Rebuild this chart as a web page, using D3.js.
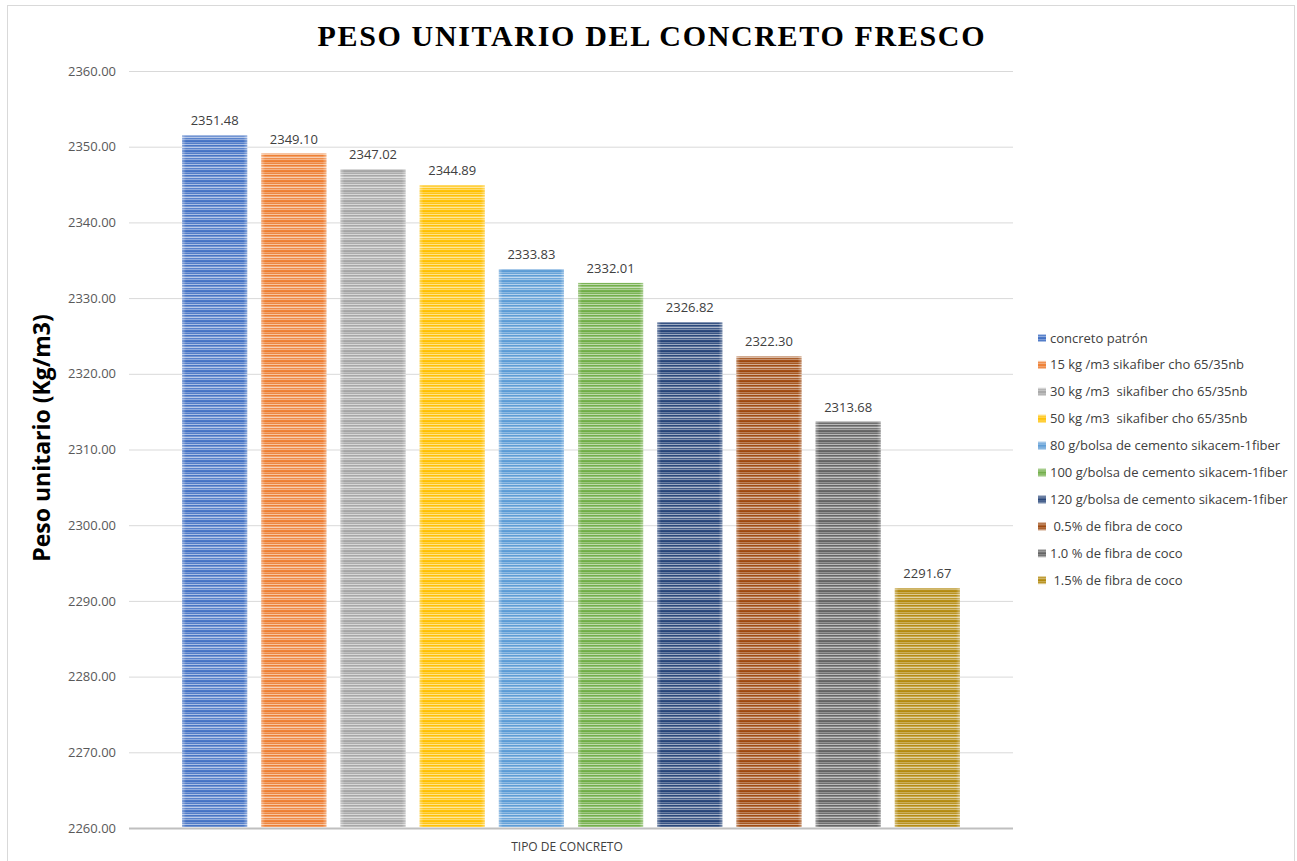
<!DOCTYPE html>
<html>
<head>
<meta charset="utf-8">
<script src="https://cdn.jsdelivr.net/npm/d3@7"></script>
<style>
  body { margin: 0; background: #fff; }
  svg { display: block; }
</style>
</head>
<body>
<svg width="1297" height="861"></svg>
<script>
var series = ["concreto patrón", "15 kg /m3 sikafiber cho 65/35nb", "30 kg /m3  sikafiber cho 65/35nb",
	"50 kg /m3  sikafiber cho 65/35nb", "80 g/bolsa de cemento sikacem-1fiber", "100 g/bolsa de cemento sikacem-1fiber",
	"120 g/bolsa de cemento sikacem-1fiber", " 0.5% de fibra de coco", "1.0 % de fibra de coco", " 1.5% de fibra de coco"];
var values = [2351.48, 2349.10, 2347.02, 2344.89, 2333.83, 2332.01, 2326.82, 2322.30, 2313.68, 2291.67];
var colors = ["#4472C4", "#ED7D31", "#A5A5A5", "#FFC000", "#5B9BD5", "#70AD47", "#264478", "#9E480E", "#636363", "#B38A0F"];
var yTicks = [2260, 2270, 2280, 2290, 2300, 2310, 2320, 2330, 2340, 2350, 2360];

var svg = d3.select("svg"),
	margin = {top: 71, right: 284, bottom: 33, left: 129},
	width = +svg.attr("width") - margin.left - margin.right,
	height = +svg.attr("height") - margin.top - margin.bottom;

// outer frame
svg.append("rect")
	.attr("x", 7.5).attr("y", 5.5)
	.attr("width", 1287).attr("height", 870)
	.attr("fill", "none")
	.attr("stroke", "#d9d9d9");

// striped fills, with a softer horizontal edge glow like the original
var defs = svg.append("defs");
var rows = [0, 0.3, 0.08, 0.55, 0.02, 0.25, 0.62, 0.12, 0.4, 0.05];
colors.forEach(function(c, i) {
	var p = defs.append("pattern")
		.attr("id", "stripe" + i)
		.attr("patternUnits", "userSpaceOnUse")
		.attr("width", 10).attr("height", rows.length);
	rows.forEach(function(t, j) {
		p.append("rect")
			.attr("x", 0).attr("y", j)
			.attr("width", 10).attr("height", 1)
			.attr("fill", d3.interpolateRgb(c, "#fff")(t));
	});
});
var edge = defs.append("linearGradient").attr("id", "edge");
edge.append("stop").attr("offset", "0").attr("stop-color", "#fff").attr("stop-opacity", 0.35);
edge.append("stop").attr("offset", "0.06").attr("stop-color", "#fff").attr("stop-opacity", 0);
edge.append("stop").attr("offset", "0.94").attr("stop-color", "#fff").attr("stop-opacity", 0);
edge.append("stop").attr("offset", "1").attr("stop-color", "#fff").attr("stop-opacity", 0.35);

var g = svg.append("g").attr("transform", "translate(" + margin.left + "," + margin.top + ")");

var x = d3.scaleBand()
	.domain(series)
	.range([0, width])
	.paddingInner(0.177)
	.paddingOuter(0.67);

var y = d3.scaleLinear()
	.domain([2260, 2360])
	.range([height, 0]);

// gridlines
g.append("g")
	.selectAll("line")
	.data(yTicks)
	.join("line")
	.attr("x1", 0).attr("x2", width)
	.attr("y1", function(d) { return y(d) + 0.5; })
	.attr("y2", function(d) { return y(d) + 0.5; })
	.attr("stroke", function(d) { return d === 2260 ? "#bfbfbf" : "#d9d9d9"; })
	.attr("stroke-width", function(d) { return d === 2260 ? 2 : 1; });

// y axis labels
var yAxis = g.append("g")
	.call(d3.axisLeft(y).tickValues(yTicks).tickSize(0).tickPadding(13).tickFormat(d3.format(".2f")));
yAxis.select(".domain").remove();
yAxis.selectAll("text")
	.attr("fill", "#595959")
	.style("font-family", "'Open Sans', 'Liberation Sans', sans-serif")
	.style("font-size", "13px");

// bars
var bars = g.append("g")
	.selectAll("g")
	.data(values)
	.join("g");
bars.append("rect")
	.attr("x", function(d, i) { return x(series[i]); })
	.attr("y", function(d) { return y(d); })
	.attr("width", x.bandwidth())
	.attr("height", function(d) { return y(2260) - y(d) - 1; })
	.attr("fill", function(d, i) { return "url(#stripe" + i + ")"; });
bars.append("rect")
	.attr("x", function(d, i) { return x(series[i]); })
	.attr("y", function(d) { return y(d); })
	.attr("width", x.bandwidth())
	.attr("height", function(d) { return y(2260) - y(d) - 1; })
	.attr("fill", "url(#edge)");

// value labels
g.append("g")
	.selectAll("text")
	.data(values)
	.join("text")
	.attr("x", function(d, i) { return x(series[i]) + x.bandwidth() / 2; })
	.attr("y", function(d) { return y(d) - 10; })
	.attr("text-anchor", "middle")
	.attr("fill", "#404040")
	.style("font-family", "'Open Sans', 'Liberation Sans', sans-serif")
	.style("font-size", "13px")
	.text(function(d) { return d.toFixed(2); });

// titles
svg.append("text")
	.attr("x", 651).attr("y", 46)
	.attr("text-anchor", "middle")
	.attr("textLength", 667)
	.attr("lengthAdjust", "spacing")
	.attr("fill", "#000")
	.style("font-family", "'Liberation Serif', 'Times New Roman', serif")
	.style("font-weight", "bold")
	.style("font-size", "30px")
	.text("PESO UNITARIO DEL CONCRETO FRESCO");

svg.append("text")
	.attr("transform", "translate(50,438) rotate(-90)")
	.attr("text-anchor", "middle")
	.attr("fill", "#000")
	.style("font-family", "'Open Sans', 'Liberation Sans', sans-serif")
	.style("font-weight", "bold")
	.style("font-size", "23px")
	.text("Peso unitario (Kg/m3)");

svg.append("text")
	.attr("x", 567).attr("y", 851)
	.attr("text-anchor", "middle")
	.attr("fill", "#404040")
	.style("font-family", "'Open Sans', 'Liberation Sans', sans-serif")
	.style("font-size", "12px")
	.text("TIPO DE CONCRETO");

// legend
var legend = svg.append("g")
	.attr("transform", "translate(1038,338)")
	.selectAll("g")
	.data(series)
	.join("g")
	.attr("transform", function(d, i) { return "translate(0," + (i * 26.9) + ")"; });
legend.append("rect")
	.attr("x", 0).attr("y", -4)
	.attr("width", 8).attr("height", 8)
	.attr("fill", function(d, i) { return "url(#stripe" + i + ")"; });
legend.append("text")
	.attr("x", 12).attr("y", 0)
	.attr("dy", "0.35em")
	.attr("fill", "#404040")
	.style("font-family", "'Open Sans', 'Liberation Sans', sans-serif")
	.style("font-size", "13px")
	.style("white-space", "pre")
	.text(function(d) { return d; });
</script>
</body>
</html>
